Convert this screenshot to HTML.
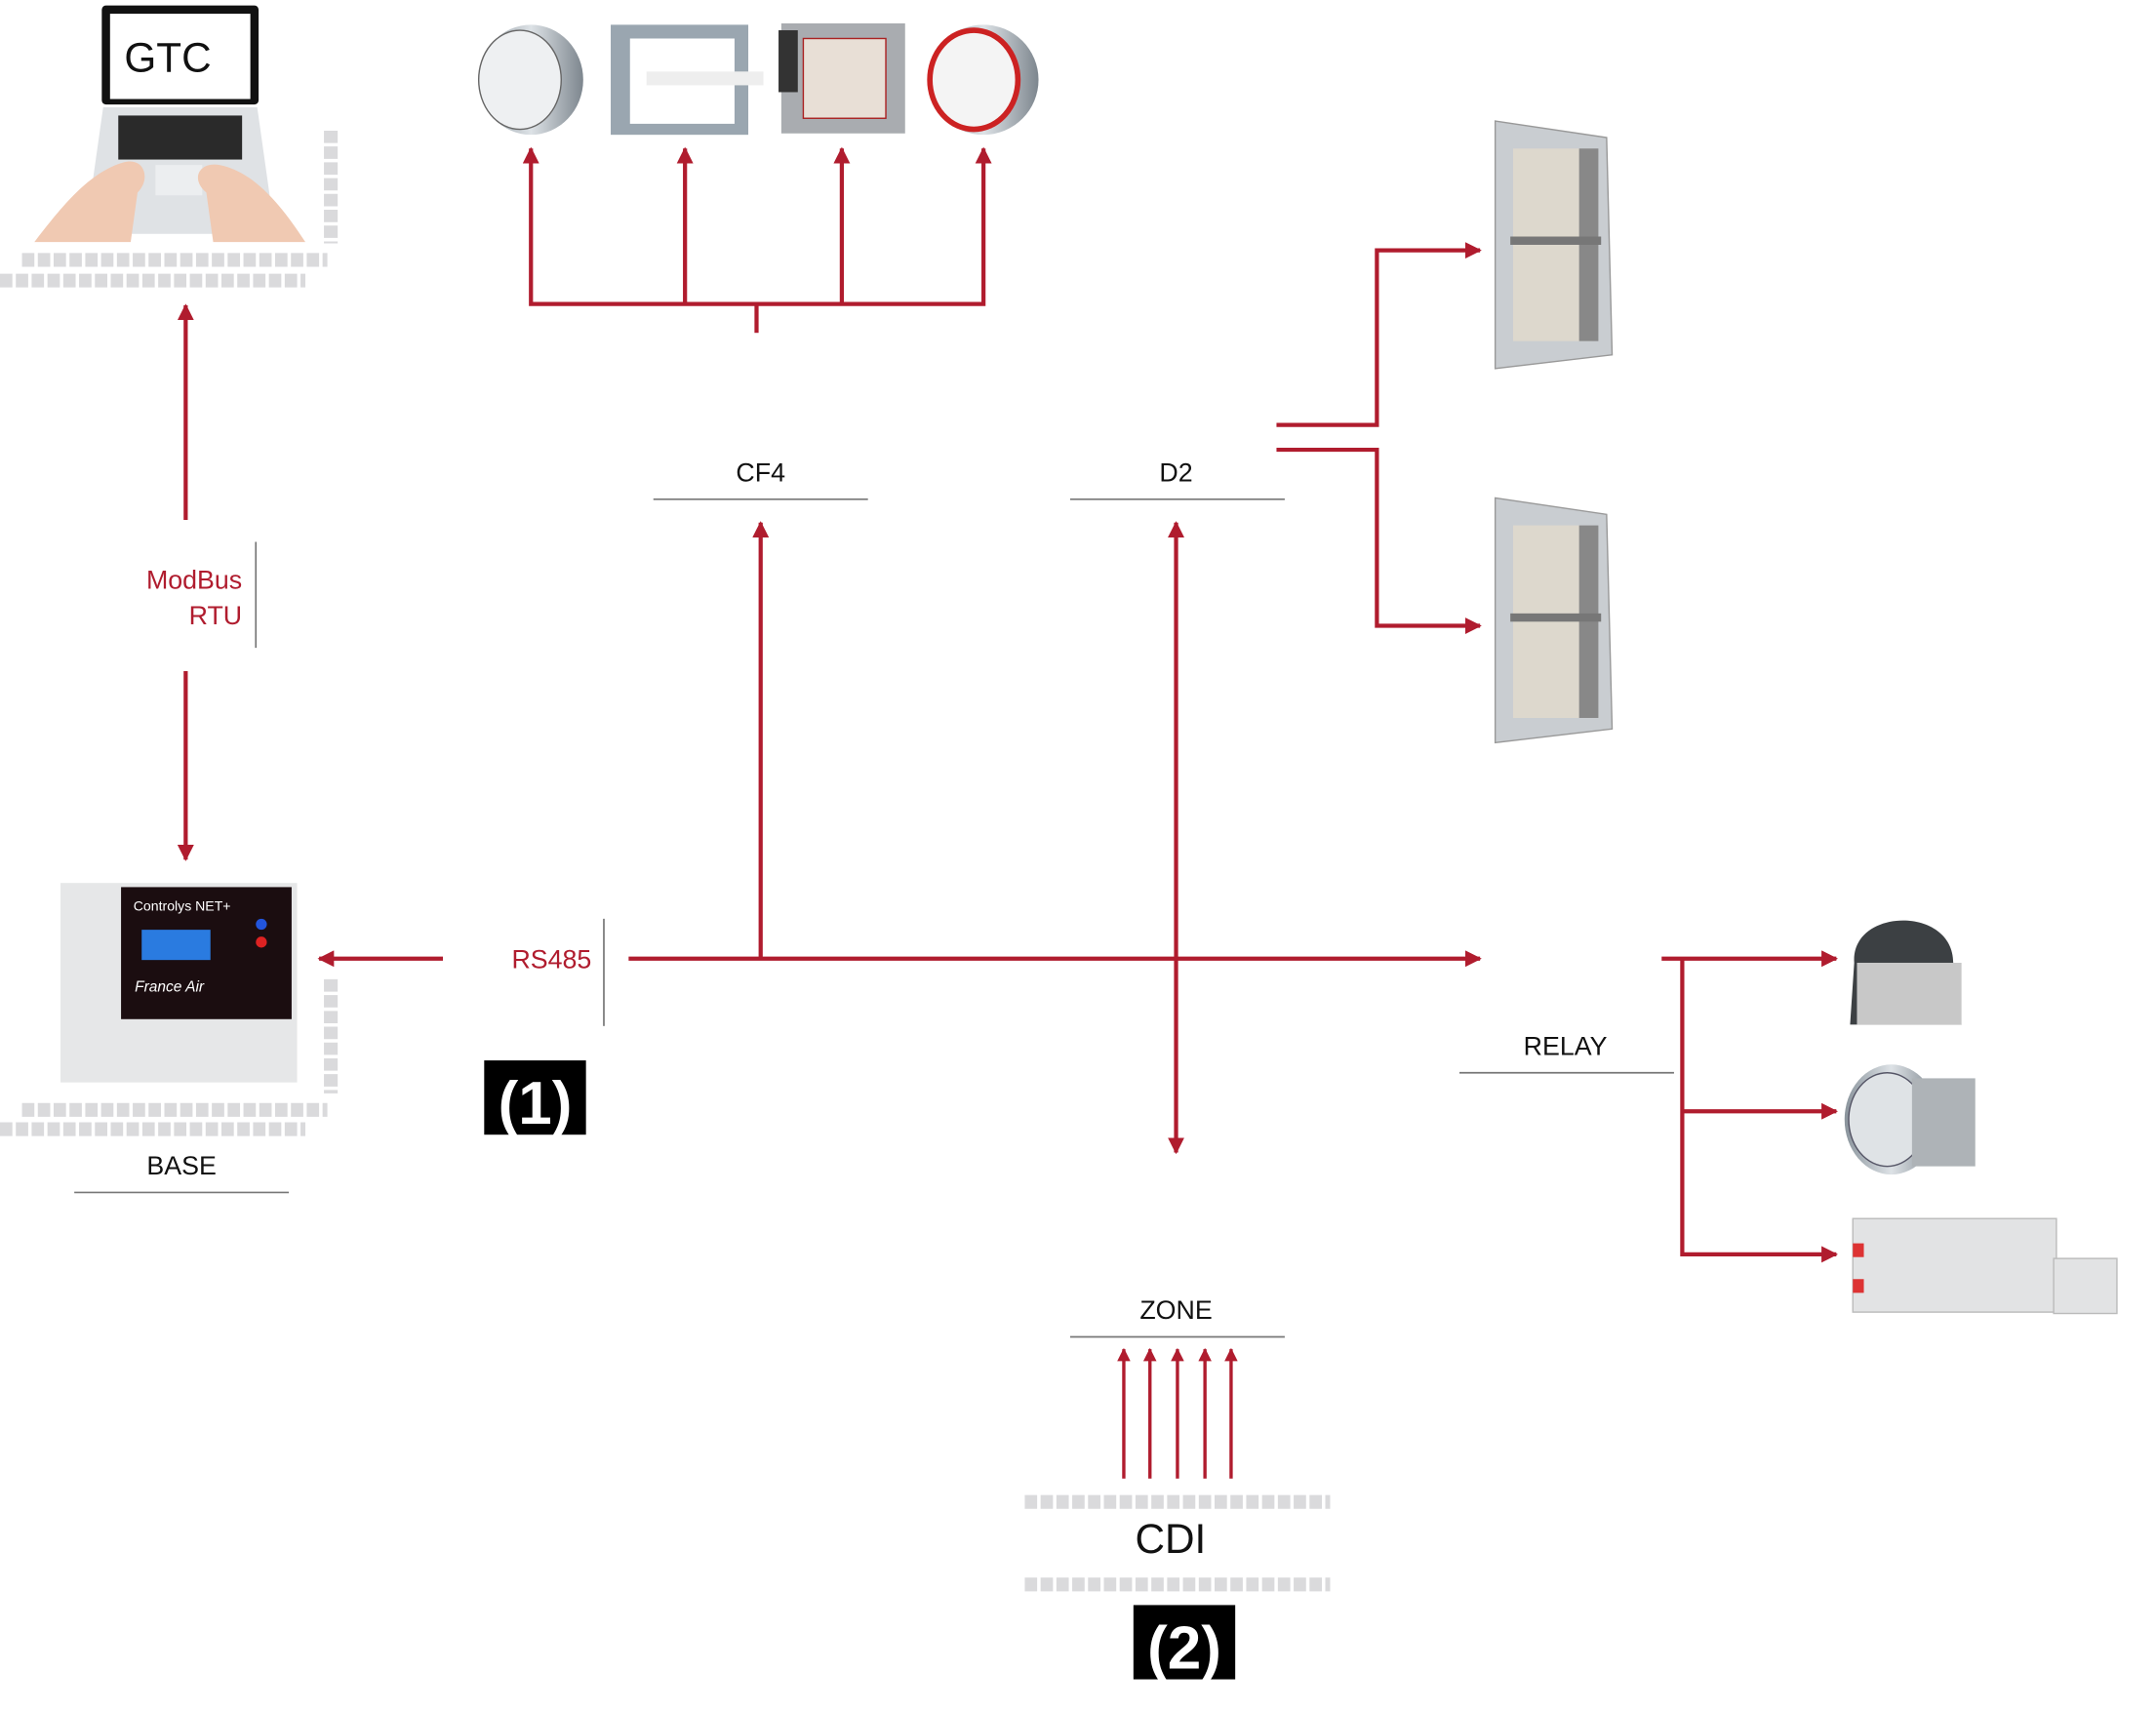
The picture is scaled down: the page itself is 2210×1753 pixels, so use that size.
<!DOCTYPE html>
<html><head><meta charset="utf-8"><style>
html,body{margin:0;padding:0;background:#fff;}
svg{display:block;}
text{font-family:"Liberation Sans",sans-serif;}
</style></head><body>
<svg width="2210" height="1753" viewBox="0 0 1567.4 1243.3" preserveAspectRatio="none" xmlns="http://www.w3.org/2000/svg">
<defs>
<marker id="a" viewBox="0 0 10 10" refX="9" refY="5" markerWidth="4" markerHeight="4" orient="auto-start-reverse" markerUnits="strokeWidth">
<path d="M0,0 L10,5 L0,10 z" fill="#b01c2e"/></marker>
<linearGradient id="met" x1="0" x2="1"><stop offset="0" stop-color="#8a949c"/><stop offset=".5" stop-color="#dde2e6"/><stop offset="1" stop-color="#7d868e"/></linearGradient>
</defs>
<g fill="none" stroke="#b01c2e" stroke-width="3">
<!-- GTC modbus -->
<line x1="135" y1="378" x2="135" y2="222" marker-end="url(#a)"/>
<line x1="135" y1="488" x2="135" y2="625" marker-end="url(#a)"/>
<!-- RS485 to base -->
<line x1="322" y1="697" x2="232" y2="697" marker-end="url(#a)"/>
<!-- main bus -->
<line x1="457" y1="697" x2="1076" y2="697" marker-end="url(#a)"/>
<line x1="553" y1="697" x2="553" y2="380" marker-end="url(#a)"/>
<line x1="855" y1="380" x2="855" y2="838" marker-start="url(#a)" marker-end="url(#a)"/>
<!-- dampers -->
<polyline points="386,108 386,221 715,221 715,108" marker-start="url(#a)" marker-end="url(#a)"/>
<line x1="498" y1="221" x2="498" y2="108" marker-end="url(#a)"/>
<line x1="612" y1="221" x2="612" y2="108" marker-end="url(#a)"/>
<line x1="550" y1="221" x2="550" y2="242"/>
<!-- D2 forks -->
<polyline points="928,309 1001,309 1001,182 1076,182" marker-end="url(#a)"/>
<polyline points="928,327 1001,327 1001,455 1076,455" marker-end="url(#a)"/>
<!-- relay -->
<line x1="1208" y1="697" x2="1335" y2="697" marker-end="url(#a)"/>
<polyline points="1223,697 1223,912 1335,912" marker-end="url(#a)"/>
<line x1="1223" y1="808" x2="1335" y2="808" marker-end="url(#a)"/>
<!-- zone -->
<g stroke-width="2.4">
<line x1="817" y1="1075" x2="817" y2="981" marker-end="url(#a)"/>
<line x1="836" y1="1075" x2="836" y2="981" marker-end="url(#a)"/>
<line x1="856" y1="1075" x2="856" y2="981" marker-end="url(#a)"/>
<line x1="876" y1="1075" x2="876" y2="981" marker-end="url(#a)"/>
<line x1="895" y1="1075" x2="895" y2="981" marker-end="url(#a)"/>
</g>
</g>
<!-- gray label lines -->
<g stroke="#777" stroke-width="1.2">
<line x1="186" y1="394" x2="186" y2="471"/>
<line x1="439" y1="668" x2="439" y2="746"/>
<line x1="54" y1="867" x2="210" y2="867"/>
<line x1="475" y1="363" x2="631" y2="363"/>
<line x1="778" y1="363" x2="934" y2="363"/>
<line x1="1061" y1="780" x2="1217" y2="780"/>
<line x1="778" y1="972" x2="934" y2="972"/>
</g>
<!-- grey square rows -->
<g stroke="#dadadc" stroke-width="10" stroke-dasharray="9 2.5">
<line x1="240.5" y1="95" x2="240.5" y2="177"/>
<line x1="16" y1="189" x2="238" y2="189"/>
<line x1="0" y1="204" x2="222" y2="204"/>
<line x1="240.5" y1="712" x2="240.5" y2="795"/>
<line x1="16" y1="807" x2="238" y2="807"/>
<line x1="0" y1="821" x2="222" y2="821"/>
<line x1="745" y1="1092" x2="967" y2="1092"/>
<line x1="745" y1="1152" x2="967" y2="1152"/>
</g>
<!-- text -->
<g font-size="19" text-anchor="middle" fill="#111">
<text x="553" y="350">CF4</text>
<text x="855" y="350">D2</text>
<text x="132" y="854">BASE</text>
<text x="1138" y="767">RELAY</text>
<text x="855" y="959">ZONE</text>
<text x="851" y="1129" font-size="30">CDI</text>
</g>
<g font-size="19" text-anchor="end" fill="#b01c2e">
<text x="176" y="428">ModBus</text>
<text x="176" y="454">RTU</text>
<text x="430" y="704">RS485</text>
</g>
<rect x="352" y="771" width="74" height="54" fill="#000"/>
<text x="389" y="817" font-size="44" font-weight="bold" fill="#fff" text-anchor="middle">(1)</text>
<rect x="824" y="1167" width="74" height="54" fill="#000"/>
<text x="861" y="1213" font-size="44" font-weight="bold" fill="#fff" text-anchor="middle">(2)</text>
<!-- laptop -->
<path d="M75,78 L187,78 L200,170 L62,170 Z" fill="#dfe2e5"/>
<rect x="86" y="84" width="90" height="32" fill="#2a2a2a"/>
<rect x="113" y="120" width="34" height="22" fill="#eceef0"/>
<rect x="74" y="4" width="114" height="72" rx="3" fill="#111"/>
<rect x="80" y="10" width="102" height="62" fill="#fff"/>
<text x="122" y="52" font-size="30" text-anchor="middle" fill="#111">GTC</text>
<path d="M25,176 C45,150 65,125 90,118 C105,114 110,130 100,140 L95,176 Z" fill="#f0c9b2"/>
<path d="M222,176 C205,150 185,125 160,120 C145,117 138,130 150,140 L155,176 Z" fill="#f0c9b2"/>
<!-- dampers -->
<ellipse cx="386" cy="58" rx="38" ry="40" fill="url(#met)"/><ellipse cx="378" cy="58" rx="30" ry="36" fill="#eef0f2" stroke="#666"/>
<rect x="444" y="18" width="100" height="80" fill="#9aa6b0"/><rect x="458" y="28" width="76" height="62" fill="#fff"/><rect x="470" y="52" width="85" height="10" fill="#eee"/>
<rect x="568" y="17" width="90" height="80" fill="#a9acb0"/><rect x="584" y="28" width="60" height="58" fill="#e8dfd6" stroke="#a22" /><rect x="566" y="22" width="14" height="45" fill="#333"/>
<ellipse cx="715" cy="58" rx="40" ry="40" fill="url(#met)"/><ellipse cx="708" cy="58" rx="32" ry="36" fill="#f4f4f4" stroke="#c22" stroke-width="4"/>
<!-- doors -->
<g>
<path d="M1087,88 L1168,100 L1172,258 L1087,268 Z" fill="#c9cdd1" stroke="#999"/>
<rect x="1100" y="108" width="58" height="140" fill="#ddd8cd"/><rect x="1148" y="108" width="14" height="140" fill="#888"/><rect x="1098" y="172" width="66" height="6" fill="#777"/>
<path d="M1087,362 L1168,374 L1172,530 L1087,540 Z" fill="#c9cdd1" stroke="#999"/>
<rect x="1100" y="382" width="58" height="140" fill="#ddd8cd"/><rect x="1148" y="382" width="14" height="140" fill="#888"/><rect x="1098" y="446" width="66" height="6" fill="#777"/>
</g>
<!-- controller -->
<rect x="44" y="642" width="172" height="145" fill="#e6e7e8"/>
<rect x="88" y="645" width="124" height="96" fill="#1b0d10"/>
<text x="97" y="662" font-size="10" fill="#fff">Controlys NET+</text>
<rect x="103" y="676" width="50" height="22" fill="#2a7be0"/>
<text x="98" y="721" font-size="11" font-style="italic" fill="#fff">France Air</text>
<circle cx="190" cy="672" r="4" fill="#2255dd"/><circle cx="190" cy="685" r="4" fill="#dd2222"/>
<!-- fans -->
<path d="M1348,700 C1345,660 1420,658 1420,700 L1426,745 L1345,745 Z" fill="#3c4043"/><rect x="1350" y="700" width="76" height="45" fill="#c8c8c8"/>
<ellipse cx="1375" cy="814" rx="34" ry="40" fill="url(#met)"/><ellipse cx="1372" cy="814" rx="28" ry="34" fill="#dfe3e6" stroke="#556"/><rect x="1390" y="784" width="46" height="64" fill="#aeb3b7"/>
<rect x="1347" y="886" width="148" height="68" fill="#e2e3e4" stroke="#bbb"/><rect x="1493" y="915" width="46" height="40" fill="#e2e3e4" stroke="#bbb"/>
<rect x="1347" y="904" width="8" height="10" fill="#d33"/><rect x="1347" y="930" width="8" height="10" fill="#d33"/>
</svg>
</body></html>
